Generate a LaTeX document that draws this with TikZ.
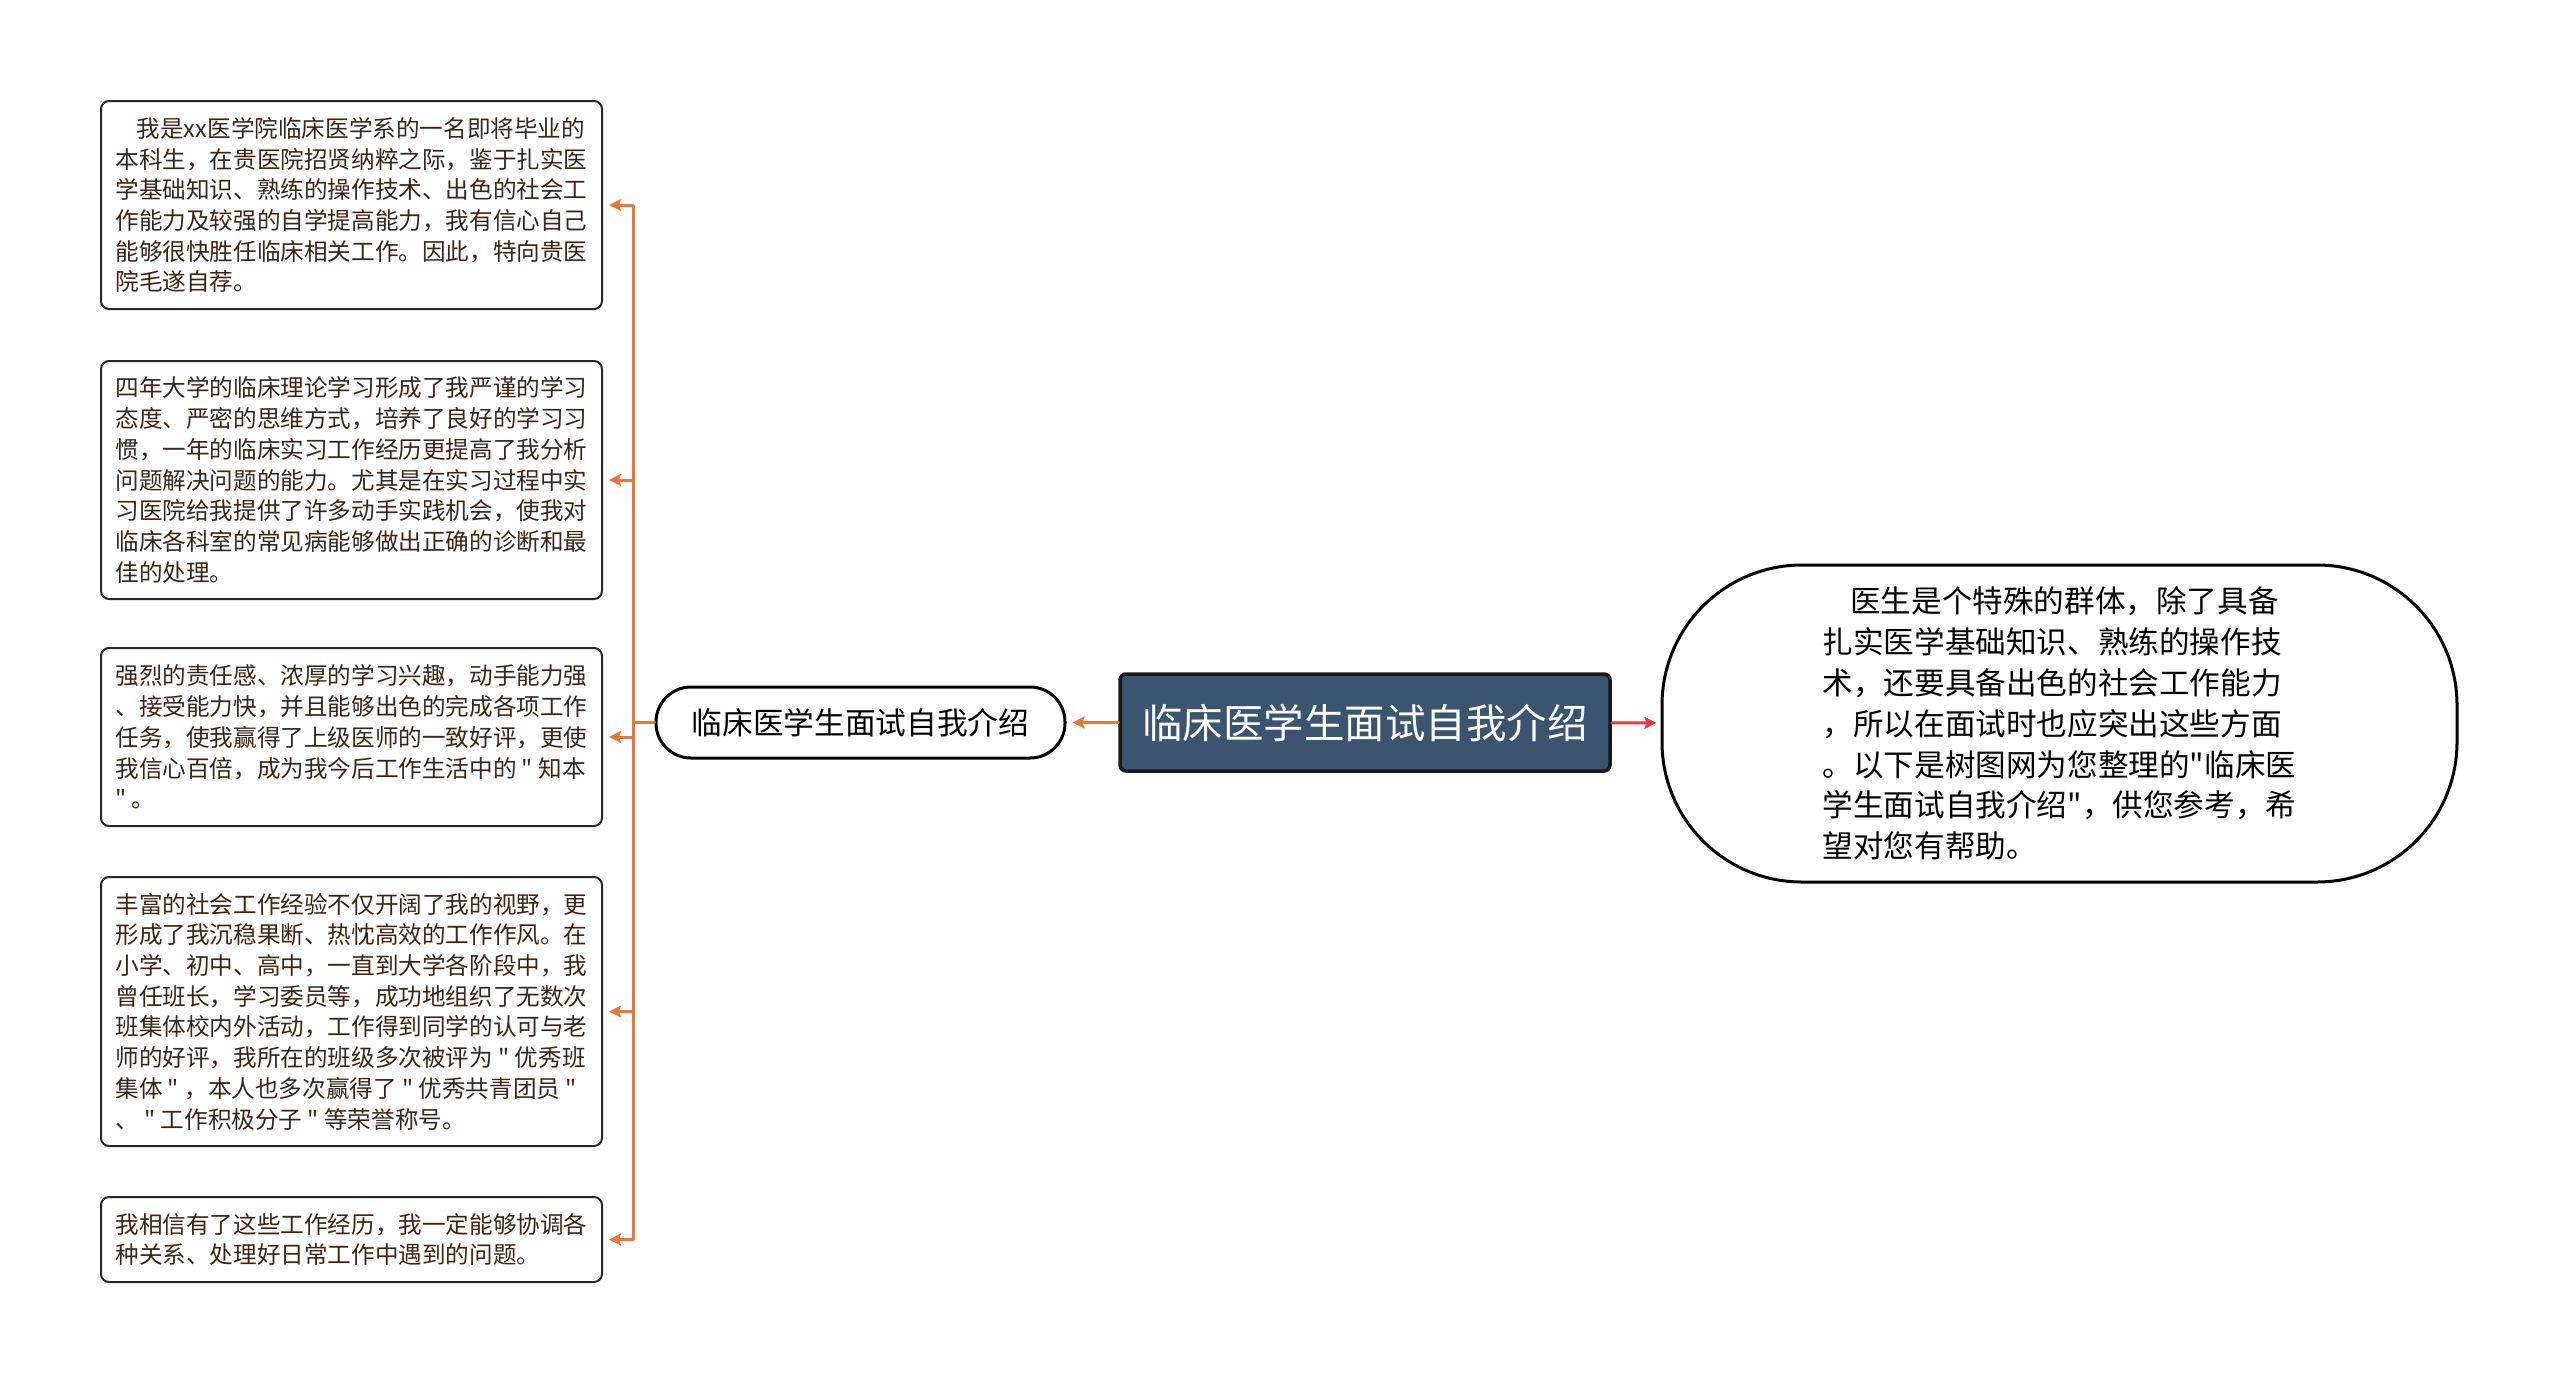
\documentclass[tikz,border=0pt]{standalone}
\usepackage{fontspec}
\newfontfamily\cjk{Noto Sans CJK SC}
\usetikzlibrary{arrows.meta}
\definecolor{rootblue}{HTML}{3B5570}
\definecolor{linkorange}{HTML}{E8783A}
\definecolor{linkred}{HTML}{E03C3C}
\definecolor{textbrown}{HTML}{3F2412}
\tikzset{
  leaf/.style={draw=black!85, line width=2pt, fill=white, rounded corners=8pt,
    minimum width=501pt, align=left, inner sep=0pt, text=textbrown,
    font=\cjk\fontsize{23.6}{30.7}\selectfont},
  link/.style={draw=linkorange, line width=3pt},
}
\begin{document}
\begin{tikzpicture}[x=1pt, y=-1pt, line join=round, line cap=round,
  >={Stealth[length=12pt,width=12pt,inset=2pt]}]
  \useasboundingbox (0,0) rectangle (2560,1385);
  % centre, sub topic and the note on the right
  \node[draw=black!90, line width=3.5pt, fill=rootblue, rounded corners=6pt,
    minimum width=490pt, minimum height=97pt, text=white,
    font=\cjk\fontsize{40.5}{48}\selectfont] (root) at (1365,722.5) {临床医学生面试自我介绍};
  \node[draw=black, line width=3pt, fill=white, rounded corners=35pt,
    minimum width=409pt, minimum height=71pt,
    font=\cjk\fontsize{30.7}{36}\selectfont] (sub) at (860.5,722.5) {临床医学生面试自我介绍};
  \node[draw=black, line width=3pt, fill=white, rounded corners=140pt,
    minimum width=795pt, minimum height=317pt, align=left, inner sep=0pt,
    font=\cjk\fontsize{30.6}{40.8}\selectfont] (intro) at (2059.5,723.5)
    {\hspace*{0.9em}医生是个特殊的群体，除了具备\\
     扎实医学基础知识、熟练的操作技\\
     术，还要具备出色的社会工作能力\\
     ，所以在面试时也应突出这些方面\\
     。以下是树图网为您整理的"临床医\\
     学生面试自我介绍"，供您参考，希\\
     望对您有帮助。};
  % left column
  \path
  (351.5,205) node[leaf, minimum height=208pt] (p1)
    {\hspace*{0.9em}我是xx医学院临床医学系的一名即将毕业的\\
     本科生，在贵医院招贤纳粹之际，鉴于扎实医\\
     学基础知识、熟练的操作技术、出色的社会工\\
     作能力及较强的自学提高能力，我有信心自己\\
     能够很快胜任临床相关工作。因此，特向贵医\\
     院毛遂自荐。}
  (351.5,480) node[leaf, minimum height=238pt] (p2)
    {四年大学的临床理论学习形成了我严谨的学习\\
     态度、严密的思维方式，培养了良好的学习习\\
     惯，一年的临床实习工作经历更提高了我分析\\
     问题解决问题的能力。尤其是在实习过程中实\\
     习医院给我提供了许多动手实践机会，使我对\\
     临床各科室的常见病能够做出正确的诊断和最\\
     佳的处理。}
  (351.5,737) node[leaf, minimum height=178pt] (p3)
    {强烈的责任感、浓厚的学习兴趣，动手能力强\\
     、接受能力快，并且能够出色的完成各项工作\\
     任务，使我赢得了上级医师的一致好评，更使\\
     我信心百倍，成为我今后工作生活中的 " 知本\\
     " 。}
  (351.5,1011.5) node[leaf, minimum height=269pt] (p4)
    {丰富的社会工作经验不仅开阔了我的视野，更\\
     形成了我沉稳果断、热忱高效的工作作风。在\\
     小学、初中、高中，一直到大学各阶段中，我\\
     曾任班长，学习委员等，成功地组织了无数次\\
     班集体校内外活动，工作得到同学的认可与老\\
     师的好评，我所在的班级多次被评为 " 优秀班\\
     集体 " ，本人也多次赢得了 " 优秀共青团员 "\\
     、 " 工作积极分子 " 等荣誉称号。}
  (351.5,1239.5) node[leaf, minimum height=85pt] (p5)
    {我相信有了这些工作经历，我一定能够协调各\\
     种关系、处理好日常工作中遇到的问题。}
  ;
  % connectors
  \draw[link, ->, shorten >=6pt] (root) -- (sub);
  \draw[draw=linkred, line width=3pt, ->, shorten >=4pt] (root) -- (intro);
  \draw[link] (sub.west) -- ++(-21,0) coordinate (trunk);
  \foreach \p in {p1,p2,p3,p4,p5}
    \draw[link, ->, shorten >=6pt] (trunk) |- (\p.east);
\end{tikzpicture}
\end{document}
